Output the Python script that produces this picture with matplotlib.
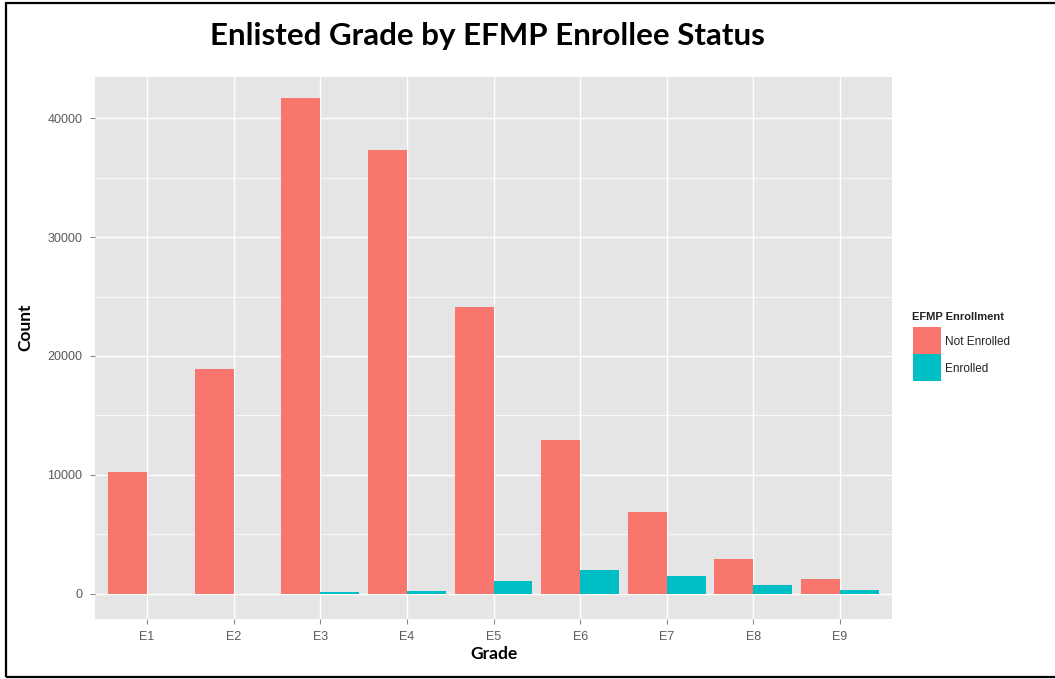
import matplotlib.pyplot as plt
from matplotlib.patches import Rectangle
from matplotlib.ticker import MultipleLocator
import numpy as np

grades = ["E1", "E2", "E3", "E4", "E5", "E6", "E7", "E8", "E9"]
not_enrolled = [10250, 18900, 41700, 37300, 24150, 12900, 6900, 2920, 1200]
enrolled = [0, 0, 130, 220, 1060, 1980, 1510, 700, 300]

series_labels = ["Not Enrolled", "Enrolled"]
series_colors = ["#F8766D", "#00BFC4"]

W, H = 1055, 679


def fx(px):
    return px / W


def fy(py):
    return 1 - py / H


fig = plt.figure(figsize=(W / 100, H / 100), dpi=100)
ax = fig.add_axes([fx(95), fy(618.5), (892 - 95) / W, (618.5 - 77.3) / H])
ax.set_facecolor("#E5E5E5")

x = np.arange(len(grades))
bw = 0.45
ax.bar(x - bw / 2, not_enrolled, width=bw, color=series_colors[0], linewidth=0, zorder=3)
ax.bar(x + bw / 2, enrolled, width=bw, color=series_colors[1], linewidth=0, zorder=3)

ax.set_xlim(-0.6, len(grades) - 0.4)
ax.set_ylim(-2100, 43450)

ax.set_xticks(x)
ax.set_xticklabels(grades)
ax.yaxis.set_major_locator(MultipleLocator(10000))
ax.yaxis.set_minor_locator(MultipleLocator(5000))

ax.grid(which="major", color="white", linewidth=1.0, zorder=0)
ax.grid(which="minor", axis="y", color="white", linewidth=0.5, zorder=0)
ax.set_axisbelow(True)

for s in ax.spines.values():
    s.set_visible(False)

ax.tick_params(which="major", length=3.5, width=0.8, color="#8a8a8a",
               labelsize=9, labelcolor="#5a5a5a", pad=5.5)
ax.tick_params(which="minor", length=0)
for lab in ax.get_xticklabels() + ax.get_yticklabels():
    lab.set_family("Liberation Sans")

ax.set_xlabel("Grade", fontsize=12.5, fontweight="bold", family="Lato", labelpad=2)

fig.text(fx(25), fy(327), "Count", rotation=90, ha="center", va="center",
         fontsize=12.5, fontweight="bold", family="Lato")

fig.text(fx(487), fy(36), "Enlisted Grade by EFMP Enrollee Status",
         ha="center", va="center", fontsize=22.5, fontweight="bold", family="Lato")

# legend drawn by hand
fig.text(fx(912), fy(317), "EFMP Enrollment", ha="left", va="center",
         fontsize=8, fontweight="bold", family="Liberation Sans", color="#222222")
key_top = 327
for i, (lab, col) in enumerate(zip(series_labels, series_colors)):
    y0 = key_top + i * 27
    fig.patches.append(Rectangle((fx(913), fy(y0 + 27)), 28 / W, 27 / H,
                                 transform=fig.transFigure, facecolor=col,
                                 edgecolor="none"))
    fig.text(fx(945), fy(y0 + 15), lab, ha="left", va="center",
             fontsize=8.5, family="Liberation Sans", color="#222222")

# black frame around the graphic
fig.patches.append(Rectangle((fx(6), fy(677)), (1065 - 6) / W, (677 - 3) / H,
                             transform=fig.transFigure, fill=False,
                             edgecolor="black", linewidth=1.6))

fig.savefig("out.png", dpi=100)
plt.close(fig)
